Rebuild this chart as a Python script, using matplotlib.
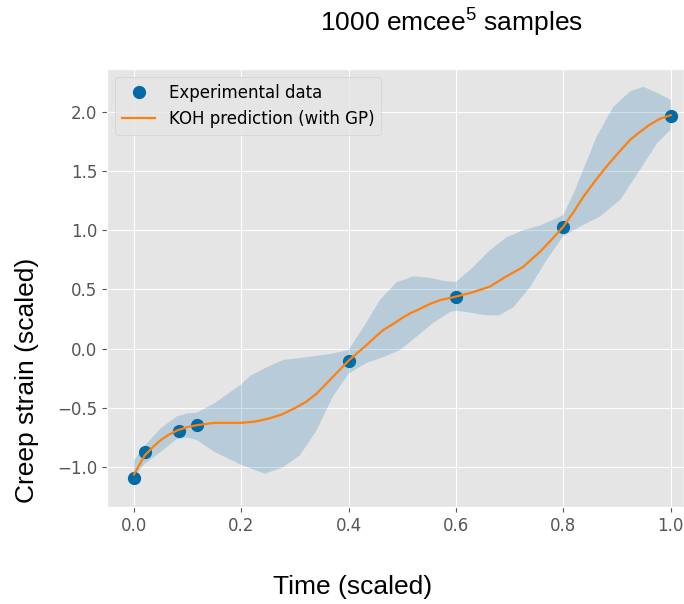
import numpy as np
import matplotlib.pyplot as plt

plt.style.use('ggplot')
plt.rcParams['mathtext.fontset'] = 'custom'
plt.rcParams['mathtext.rm'] = 'Liberation Sans'
plt.rcParams['mathtext.it'] = 'Liberation Sans:italic'

# experimental data (scaled)
t_data = [0.0, 0.02, 0.083, 0.117, 0.4, 0.6, 0.8, 1.0]
y_data = [-1.09, -0.87, -0.69, -0.645, -0.10, 0.44, 1.03, 1.96]

# KOH mean prediction
t_mean = [0.0, 0.01, 0.02, 0.035, 0.05, 0.065, 0.08, 0.1, 0.117, 0.15, 0.175, 0.2,
          0.225, 0.25, 0.275, 0.3, 0.32, 0.34, 0.355, 0.37, 0.385, 0.4, 0.415,
          0.433, 0.45, 0.465, 0.485, 0.5, 0.515, 0.53, 0.55, 0.57, 0.585, 0.6,
          0.63, 0.663, 0.69, 0.725, 0.757, 0.78, 0.8, 0.82, 0.837, 0.86, 0.881,
          0.9, 0.924, 0.94, 0.961, 0.98, 1.0]
y_mean = [-1.06, -0.98, -0.90, -0.83, -0.77, -0.725, -0.69, -0.66, -0.645, -0.625,
          -0.625, -0.625, -0.615, -0.59, -0.555, -0.50, -0.45, -0.38, -0.31, -0.24,
          -0.17, -0.10, -0.04, 0.03, 0.10, 0.16, 0.215, 0.26, 0.30, 0.33, 0.375,
          0.41, 0.425, 0.44, 0.475, 0.524, 0.60, 0.69, 0.82, 0.93, 1.03, 1.16,
          1.28, 1.42, 1.54, 1.64, 1.76, 1.82, 1.89, 1.94, 1.97]

# credible band edges
t_up = [0.0, 0.02, 0.05, 0.08, 0.1, 0.117, 0.15, 0.2, 0.216, 0.25, 0.278, 0.34, 0.371,
        0.4, 0.433, 0.458, 0.489, 0.52, 0.55, 0.58, 0.6, 0.63, 0.663, 0.694, 0.725,
        0.757, 0.787, 0.8, 0.819, 0.837, 0.862, 0.893, 0.924, 0.949, 0.974, 1.0]
y_up = [-0.94, -0.82, -0.67, -0.57, -0.545, -0.54, -0.46, -0.30, -0.23, -0.15, -0.095,
        -0.06, -0.04, -0.01, 0.22, 0.41, 0.56, 0.61, 0.60, 0.57, 0.565, 0.68, 0.83,
        0.94, 1.0, 1.04, 1.10, 1.13, 1.31, 1.51, 1.79, 2.04, 2.17, 2.21, 2.16, 2.10]

t_lo = [0.0, 0.02, 0.05, 0.08, 0.1, 0.117, 0.15, 0.2, 0.244, 0.278, 0.309, 0.34,
        0.371, 0.4, 0.433, 0.465, 0.496, 0.526, 0.558, 0.589, 0.6, 0.62, 0.65, 0.68,
        0.707, 0.738, 0.769, 0.8, 0.831, 0.868, 0.906, 0.943, 0.974, 1.0]
y_lo = [-1.08, -0.97, -0.87, -0.76, -0.75, -0.77, -0.87, -0.98, -1.055, -1.0, -0.90,
        -0.69, -0.40, -0.21, -0.12, -0.07, -0.01, 0.10, 0.22, 0.31, 0.32, 0.31, 0.285,
        0.28, 0.35, 0.52, 0.75, 0.95, 1.03, 1.115, 1.256, 1.51, 1.73, 1.85]

c_data = '#006BA4'
c_pred = '#FF800E'

fig = plt.figure(figsize=(6.84, 6.04), dpi=100)
ax = fig.add_axes([0.1564, 0.1606, 0.8436, 0.7252])

# band: upper and lower edges joined into one polygon
poly_t = list(t_up) + list(t_lo[::-1])
poly_y = list(y_up) + list(y_lo[::-1])
ax.fill(poly_t, poly_y, color=c_data, alpha=0.2, lw=0)

ax.plot(t_data, y_data, 'o', color=c_data, markersize=8.5, label='Experimental data', zorder=3)
ax.plot(t_mean, y_mean, color=c_pred, lw=1.6, label='KOH prediction (with GP)', zorder=4)

ax.set_xlim(-0.0503, 1.0248)
ax.set_ylim(-1.335, 2.36)
ax.set_xticks(np.arange(0, 1.01, 0.2))
ax.set_yticks(np.arange(-1.0, 2.01, 0.5))
ax.tick_params(labelsize=12)
ax.legend(loc='upper left', fontsize=12)

fig.text(0.66, 0.962, r'1000 emcee$^{\mathrm{5}}$ samples', ha='center', va='center',
         fontsize=19, family='Liberation Sans')
fig.text(0.04, 0.371, 'Creep strain (scaled)', ha='center', va='center', rotation=90,
         fontsize=19, family='Liberation Sans')
fig.text(0.515, 0.028, 'Time (scaled)', ha='center', va='center',
         fontsize=19, family='Liberation Sans')

fig.savefig('out.png', dpi=100)
